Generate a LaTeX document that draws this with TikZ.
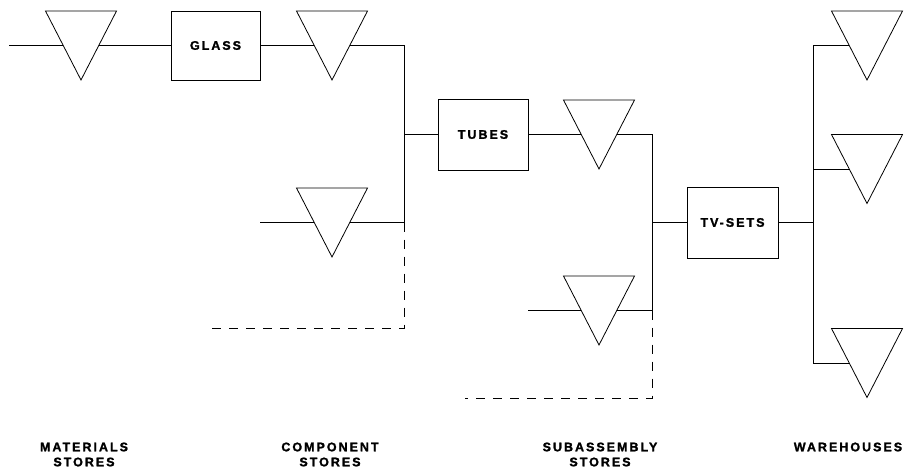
\documentclass[tikz,border=0pt]{standalone}
\usepackage{fontspec}
\setmainfont{Liberation Sans}[LetterSpace=16,BoldFeatures={FakeBold=1.5}]
\usetikzlibrary{calc}
\begin{document}
\begin{tikzpicture}[x=1pt,y=-1pt,line width=0.8pt,
  proc/.style={draw,rectangle,inner sep=0pt,outer sep=0pt,font=\bfseries\fontsize{12.5}{15}\selectfont},
  tri/.style={rectangle,inner sep=0pt,outer sep=0pt,minimum width=71pt,minimum height=69pt},
  lab/.style={align=center,inner sep=0pt,font=\bfseries\fontsize{12.5}{15}\selectfont},
  dash line/.style={dash pattern=on 9pt off 8pt}]
\useasboundingbox (0,0) rectangle (907,472);
% process boxes
\node[proc,minimum width=89pt,minimum height=69pt] (glass) at (215.5,45.5) {GLASS};
\node[proc,minimum width=90pt,minimum height=71pt] (tubes) at (483,134.5) {TUBES};
\node[proc,minimum width=91pt,minimum height=71pt] (tv) at (732.5,222.5) {TV-SETS};
% stores (triangles)
\node[tri] (m1) at (81,45.5) {};
\node[tri] (c1) at (332,45.5) {};
\node[tri] (c2) at (332,222.5) {};
\node[tri] (s1) at (599,134.5) {};
\node[tri] (s2) at (599,310.5) {};
\node[tri] (w1) at (867,45.5) {};
\node[tri] (w2) at (867,169) {};
\node[tri] (w3) at (867,363) {};
\foreach \t in {m1,c1,c2,s1,s2,w1,w2,w3}{
  \draw (\t.north west) -- (\t.north east) -- (\t.south) -- cycle;
  \coordinate (\t-l) at ($(\t.north west)!0.5!(\t.south)$);
  \coordinate (\t-r) at ($(\t.north east)!0.5!(\t.south)$);
}
% junction coordinates
\coordinate (in1) at (9,45.5);
\coordinate (in2) at (260,222.5);
\coordinate (in3) at (528,310.5);
\coordinate (j1t) at (404,45.5);
\coordinate (j1m) at (404,134.5);
\coordinate (j1b) at (404,222.5);
\coordinate (j1d) at (404,328);
\coordinate (d1e) at (207,328);
\coordinate (j2t) at (652,134.5);
\coordinate (j2m) at (652,222.5);
\coordinate (j2b) at (652,310.5);
\coordinate (j2d) at (652,398);
\coordinate (d2e) at (465,398);
\coordinate (j3m) at (813,222.5);
% connectors
\draw (in1) -- (m1-l);
\draw (m1-r) -- (glass.west);
\draw (glass.east) -- (c1-l);
\draw (c1-r) -- (j1t) -- (j1b);
\draw (in2) -- (c2-l);
\draw (c2-r) -- (j1b);
\draw (j1m) -- (tubes.west);
\draw[dash line] (j1b) -- (j1d) -- (d1e);
\draw (tubes.east) -- (s1-l);
\draw (s1-r) -- (j2t) -- (j2b);
\draw (in3) -- (s2-l);
\draw (s2-r) -- (j2b);
\draw (j2m) -- (tv.west);
\draw[dash line] (j2b) -- (j2d) -- (d2e);
\draw (tv.east) -- (j3m);
\draw (w1-l) -| (j3m);
\draw (w2-l) -- (w2-l -| j3m);
\draw (w3-l) -| (j3m);
% labels
\node[lab] (lm) at (84,454.5) {MATERIALS\\STORES};
\node[lab] (lc) at (330,454.5) {COMPONENT\\STORES};
\node[lab] (ls) at (600,454.5) {SUBASSEMBLY\\STORES};
\node[lab] (lw) at (848,447) {WAREHOUSES};
\end{tikzpicture}
\end{document}
